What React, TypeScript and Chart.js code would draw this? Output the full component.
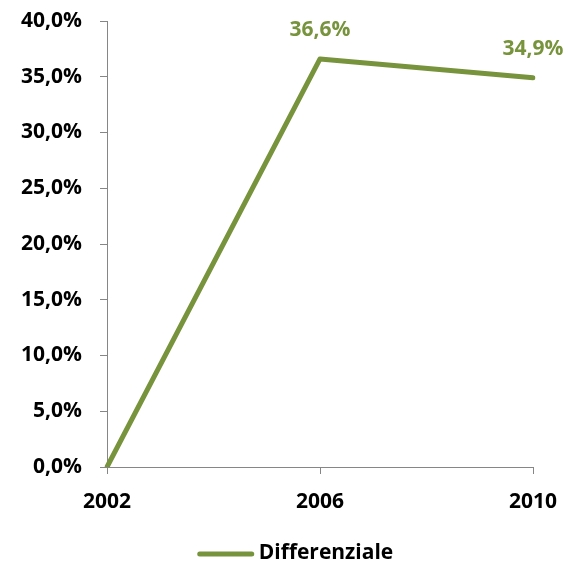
import React, { useEffect, useRef } from 'react';
import { Chart, registerables } from 'chart.js';

Chart.register(...registerables);

const categories = ['2002', '2006', '2010'];
const seriesName = 'Differenziale';
const seriesValues = [0, 36.6, 34.9];
const yMin = 0;
const yMax = 40;
const yStep = 5;

const GREEN = '#77933C';
const AXIS = '#868686';
const FONT = '"Open Sans", Lato, sans-serif';
const FS = 21;
const FW = 'bold';

const fmt = (v: number) => v.toFixed(1).replace('.', ',') + '%';

const labelsPlugin = {
  id: 'valueLabels',
  afterDatasetsDraw(chart: any) {
    const ctx = chart.ctx;
    const meta = chart.getDatasetMeta(0);
    ctx.save();
    ctx.font = `${FW} ${FS}px ${FONT}`;
    ctx.fillStyle = GREEN;
    ctx.textAlign = 'center';
    ctx.textBaseline = 'middle';
    meta.data.forEach((el: any, i: number) => {
      const v = seriesValues[i];
      if (v === 0) return;
      ctx.fillText(fmt(v), el.x, el.y - 29);
    });
    ctx.restore();
  },
};

const legendPlugin = {
  id: 'customLegend',
  afterDraw(chart: any) {
    const ctx = chart.ctx;
    ctx.save();
    ctx.font = `${FW} ${FS}px ${FONT}`;
    const tw = ctx.measureText(seriesName).width;
    const lineW = 56;
    const gap = 5;
    const total = lineW + gap + tw;
    const cx = chart.width / 2 + 6;
    const x0 = cx - total / 2;
    const y = 553;
    ctx.strokeStyle = GREEN;
    ctx.lineWidth = 5;
    ctx.lineCap = 'round';
    ctx.beginPath();
    ctx.moveTo(x0 + 2, y + 1);
    ctx.lineTo(x0 + lineW - 2, y + 1);
    ctx.stroke();
    ctx.fillStyle = '#000';
    ctx.textAlign = 'left';
    ctx.textBaseline = 'middle';
    ctx.fillText(seriesName, x0 + lineW + gap, y);
    ctx.restore();
  },
};

export default function App() {
  const ref = useRef<HTMLCanvasElement | null>(null);
  useEffect(() => {
    if (!ref.current) return;
    const chart = new Chart(ref.current, {
      type: 'line',
      data: {
        labels: categories,
        datasets: [
          {
            label: seriesName,
            data: seriesValues,
            borderColor: GREEN,
            backgroundColor: GREEN,
            borderWidth: 5,
            borderCapStyle: 'round',
            borderJoinStyle: 'round',
            pointRadius: 0,
            tension: 0,
          },
        ],
      },
      options: {
        animation: false,
        responsive: false,
        maintainAspectRatio: false,
        layout: { padding: { top: 21, right: 46, left: 0, bottom: 0 } },
        plugins: {
          legend: { display: false },
          tooltip: { enabled: false },
        },
        scales: {
          x: {
            type: 'category',
            offset: false,
            grid: {
              drawOnChartArea: false,
              drawTicks: true,
              tickLength: 7,
              color: AXIS,
            },
            border: { color: AXIS, width: 1 },
            ticks: {
              color: '#000',
              font: { family: FONT, size: FS, weight: FW },
              padding: 15,
              maxRotation: 0,
            },
            afterFit: (s: any) => {
              s.height = 105;
              s.paddingLeft = 0;
              s.paddingRight = 0;
            },
          },
          y: {
            min: yMin,
            max: yMax,
            grid: {
              drawOnChartArea: false,
              drawTicks: true,
              tickLength: 7,
              color: AXIS,
            },
            border: { color: AXIS, width: 1 },
            ticks: {
              stepSize: yStep,
              color: '#000',
              font: { family: FONT, size: FS, weight: FW },
              padding: 18,
              callback: (v: any) => fmt(Number(v)),
            },
            afterFit: (s: any) => {
              s.width = 107;
              s.paddingTop = 0;
              s.paddingBottom = 0;
            },
          },
        },
      },
      plugins: [labelsPlugin, legendPlugin],
    });
    return () => chart.destroy();
  }, []);
  return (
    <div style={{ position: 'fixed', left: 0, top: 0, width: 579, height: 572, background: '#fff' }}>
      <canvas ref={ref} width={579} height={572} style={{ width: 579, height: 572, display: 'block' }} />
    </div>
  );
}
